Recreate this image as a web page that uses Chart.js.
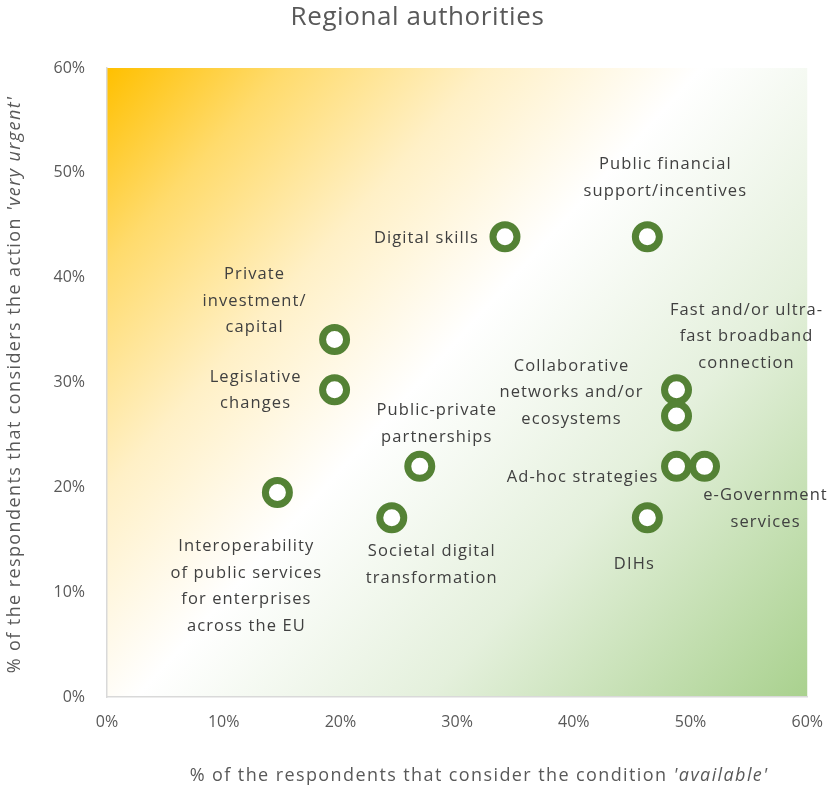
<!DOCTYPE html>
<html>
<head>
<meta charset="utf-8">
<script src="https://cdn.jsdelivr.net/npm/chart.js@4"></script>
<style>
  html, body { margin: 0; padding: 0; background: #fff; }
  #wrap { width: 831px; height: 792px; }
</style>
</head>
<body>
<div id="wrap"><canvas id="chart"></canvas></div>
<script>
// data (shares of 41 respondents)
const names = ['Digital skills', 'Public financial support/incentives', 'Private investment/ capital',
  'Legislative changes', 'Interoperability of public services for enterprises across the EU',
  'Public-private partnerships', 'Societal digital transformation',
  'Fast and/or ultra-fast broadband connection', 'Collaborative networks and/or ecosystems',
  'Ad-hoc strategies', 'e-Government services', 'DIHs'];
const available = [34.1, 46.3, 19.5, 19.5, 14.6, 26.8, 24.4, 48.8, 48.8, 48.8, 51.2, 46.3];
const urgent    = [43.9, 43.9, 34.1, 29.3, 19.5, 22.0, 17.1, 29.3, 26.8, 22.0, 22.0, 17.1];
const tickLabels = ['0%', '10%', '20%', '30%', '40%', '50%', '60%'];

// how each name is broken into lines on the chart
const labelLines = [
  ['Digital skills'],
  ['Public financial', 'support/incentives'],
  ['Private', 'investment/', 'capital'],
  ['Legislative', 'changes'],
  ['Interoperability', 'of public services', 'for enterprises', 'across the EU'],
  ['Public-private', 'partnerships'],
  ['Societal digital', 'transformation'],
  ['Fast and/or ultra-', 'fast broadband', 'connection'],
  ['Collaborative', 'networks and/or', 'ecosystems'],
  ['Ad-hoc strategies'],
  ['e-Government', 'services'],
  ['DIHs']
];
// label placement relative to its point: [dx, dy of first line, align]
const labelPos = [
  [-26, 2, 'right'], [18, -72, 'center'], [-80, -65, 'center'], [-79, -13, 'center'],
  [-31, 54, 'center'], [17, -56, 'center'], [40, 34, 'center'], [70, -80, 'center'],
  [-105, -50, 'center'], [-18, 11, 'right'], [61, 29, 'center'], [-13, 47, 'center']
];

const FONT = '"Open Sans", Lato, sans-serif';
const grey = '#595959';

const decor = {
  id: 'decor',
  beforeDraw(chart) {
    const { ctx, chartArea: a } = chart;
    ctx.save();
    ctx.fillStyle = '#fff';
    ctx.fillRect(0, 0, chart.width, chart.height);
    const g = ctx.createLinearGradient(a.left, a.top, a.right, a.bottom);
    g.addColorStop(0, '#ffc000');
    g.addColorStop(0.14, '#ffdb6c');
    g.addColorStop(0.3, '#fff0c6');
    g.addColorStop(0.47, '#ffffff');
    g.addColorStop(0.7, '#e4f0dc');
    g.addColorStop(1, '#a9d18e');
    ctx.fillStyle = g;
    ctx.fillRect(a.left, a.top, a.right - a.left, a.bottom - a.top);
    ctx.restore();
  },
  afterDraw(chart) {
    const { ctx, chartArea: a } = chart;
    ctx.save();
    // title
    ctx.fillStyle = grey;
    ctx.textAlign = 'center';
    ctx.textBaseline = 'middle';
    ctx.font = '26px ' + FONT;
    ctx.letterSpacing = '0.6px';
    ctx.fillText('Regional authorities', chart.width / 2 + 2, 18);

    // axis titles with italic part
    function mixed(parts, cx, cy) {
      ctx.textAlign = 'left';
      let total = 0;
      parts.forEach(p => { ctx.font = p[1]; total += ctx.measureText(p[0]).width; });
      let x = cx - total / 2;
      parts.forEach(p => { ctx.font = p[1]; ctx.fillText(p[0], x, cy); x += ctx.measureText(p[0]).width; });
    }
    ctx.letterSpacing = '1.4px';
    const n = '18px ' + FONT, it = 'italic 18px ' + FONT;
    mixed([['% of the respondents that consider the condition ', n], ["'available'", it]],
      (a.left + a.right) / 2 + 22, 776);
    ctx.translate(15, (a.top + a.bottom) / 2 + 2);
    ctx.rotate(-Math.PI / 2);
    mixed([['% of the respondents that considers the action ', n], ["'very urgent'", it]], 0, 0);
    ctx.restore();

    // point labels
    const meta = chart.getDatasetMeta(0);
    ctx.save();
    ctx.fillStyle = '#404040';
    ctx.font = '16.5px ' + FONT;
    ctx.letterSpacing = '1.1px';
    ctx.textBaseline = 'middle';
    meta.data.forEach((pt, i) => {
      const [dx, dy, align] = labelPos[i];
      ctx.textAlign = align;
      labelLines[i].forEach((line, j) => ctx.fillText(line, pt.x + dx, pt.y + dy + j * 26.5));
    });
    ctx.restore();
  }
};

new Chart(document.getElementById('chart'), {
  type: 'scatter',
  data: {
    labels: names,
    datasets: [{
      data: available.map((v, i) => ({ x: v, y: urgent[i] })),
      pointStyle: 'circle',
      pointRadius: 12,
      pointHoverRadius: 12,
      pointBorderWidth: 7,
      pointHoverBorderWidth: 7,
      borderColor: '#548235',
      backgroundColor: '#ffffff'
    }]
  },
  options: {
    responsive: true,
    maintainAspectRatio: false,
    animation: false,
    layout: { padding: { top: 68, right: 21, left: 0, bottom: 0 } },
    plugins: { legend: { display: false }, title: { display: false }, tooltip: { enabled: false } },
    scales: {
      x: {
        min: 0, max: 60,
        ticks: { stepSize: 10, padding: 8, color: grey, font: { size: 16, family: FONT },
          callback: (v, i) => tickLabels[i] },
        grid: { display: false },
        border: { display: true, color: '#d9d9d9', width: 1.5 },
        afterFit: s => { s.height = 95; }
      },
      y: {
        min: 0, max: 60,
        ticks: { stepSize: 10, padding: 14, color: grey, font: { size: 16, family: FONT },
          callback: (v, i) => tickLabels[i] },
        grid: { display: false },
        border: { display: true, color: '#d9d9d9', width: 1.5 },
        afterFit: s => { s.width = 107; }
      }
    }
  },
  plugins: [decor]
});
</script>
</body>
</html>
